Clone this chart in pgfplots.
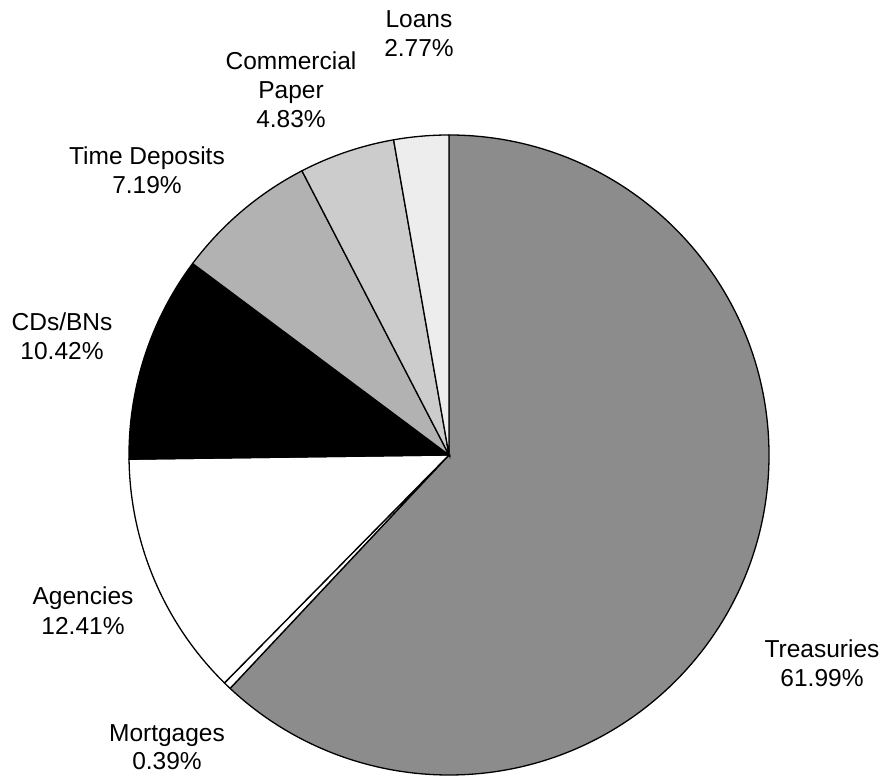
\documentclass[border=0pt]{standalone}
\usepackage{fontspec}
\setmainfont{Liberation Sans}
\usepackage{pgfplots}
\pgfplotsset{compat=1.18}
\definecolor{trea}{gray}{0.55}
\definecolor{tdep}{gray}{0.70}
\definecolor{cpap}{gray}{0.80}
\definecolor{loan}{gray}{0.93}
\newcommand{\lblfont}{\fontsize{24.5}{29}\selectfont}
\begin{document}
\begin{tikzpicture}
% shares in percent, clockwise from 12 o'clock
\def\pTrea{61.99}\def\pMort{0.39}\def\pAgen{12.41}\def\pCDs{10.42}
\def\pTime{7.19}\def\pComm{4.83}\def\pLoan{2.77}
\pgfmathsetmacro\aA{90}
\pgfmathsetmacro\aB{\aA-\pTrea*3.6}
\pgfmathsetmacro\aC{\aB-\pMort*3.6}
\pgfmathsetmacro\aD{\aC-\pAgen*3.6}
\pgfmathsetmacro\aE{\aD-\pCDs*3.6}
\pgfmathsetmacro\aF{\aE-\pTime*3.6}
\pgfmathsetmacro\aG{\aF-\pComm*3.6}
\pgfmathsetmacro\aH{\aG-\pLoan*3.6}
\begin{axis}[x=1pt,y=1pt,xmin=0,xmax=887,ymin=0,ymax=778,hide axis,clip=false]
\path (axis cs:0,0) rectangle (axis cs:887,778);
\tikzset{slice/.style={draw=black,line width=1.3pt,line join=miter}}
\filldraw[slice,fill=trea] (axis cs:449,323) -- ++(\aA:320pt) arc[start angle=\aA,end angle=\aB,radius=320pt] -- cycle;
\filldraw[slice,fill=white] (axis cs:449,323) -- ++(\aB:320pt) arc[start angle=\aB,end angle=\aC,radius=320pt] -- cycle;
\filldraw[slice,fill=white] (axis cs:449,323) -- ++(\aC:320pt) arc[start angle=\aC,end angle=\aD,radius=320pt] -- cycle;
\filldraw[slice,fill=black] (axis cs:449,323) -- ++(\aD:320pt) arc[start angle=\aD,end angle=\aE,radius=320pt] -- cycle;
\filldraw[slice,fill=tdep] (axis cs:449,323) -- ++(\aE:320pt) arc[start angle=\aE,end angle=\aF,radius=320pt] -- cycle;
\filldraw[slice,fill=cpap] (axis cs:449,323) -- ++(\aF:320pt) arc[start angle=\aF,end angle=\aG,radius=320pt] -- cycle;
\filldraw[slice,fill=loan] (axis cs:449,323) -- ++(\aG:320pt) arc[start angle=\aG,end angle=\aH,radius=320pt] -- cycle;
\tikzset{lbl/.style={anchor=base,inner sep=0pt,font=\lblfont}}
\node[lbl] at (axis cs:419,750) {Loans};
\node[lbl] at (axis cs:419,721) {2.77\%};
\node[lbl] at (axis cs:291,708) {Commercial};
\node[lbl] at (axis cs:291,679) {Paper};
\node[lbl] at (axis cs:291,650) {4.83\%};
\node[lbl] at (axis cs:147,613) {Time Deposits};
\node[lbl] at (axis cs:147,584) {7.19\%};
\node[lbl] at (axis cs:62,447) {CDs/BNs};
\node[lbl] at (axis cs:62,418) {10.42\%};
\node[lbl] at (axis cs:83,173) {Agencies};
\node[lbl] at (axis cs:83,143) {12.41\%};
\node[lbl] at (axis cs:167,36) {Mortgages};
\node[lbl] at (axis cs:167,8) {0.39\%};
\node[lbl] at (axis cs:822,120) {Treasuries};
\node[lbl] at (axis cs:822,91) {61.99\%};
\end{axis}
\end{tikzpicture}
\end{document}
